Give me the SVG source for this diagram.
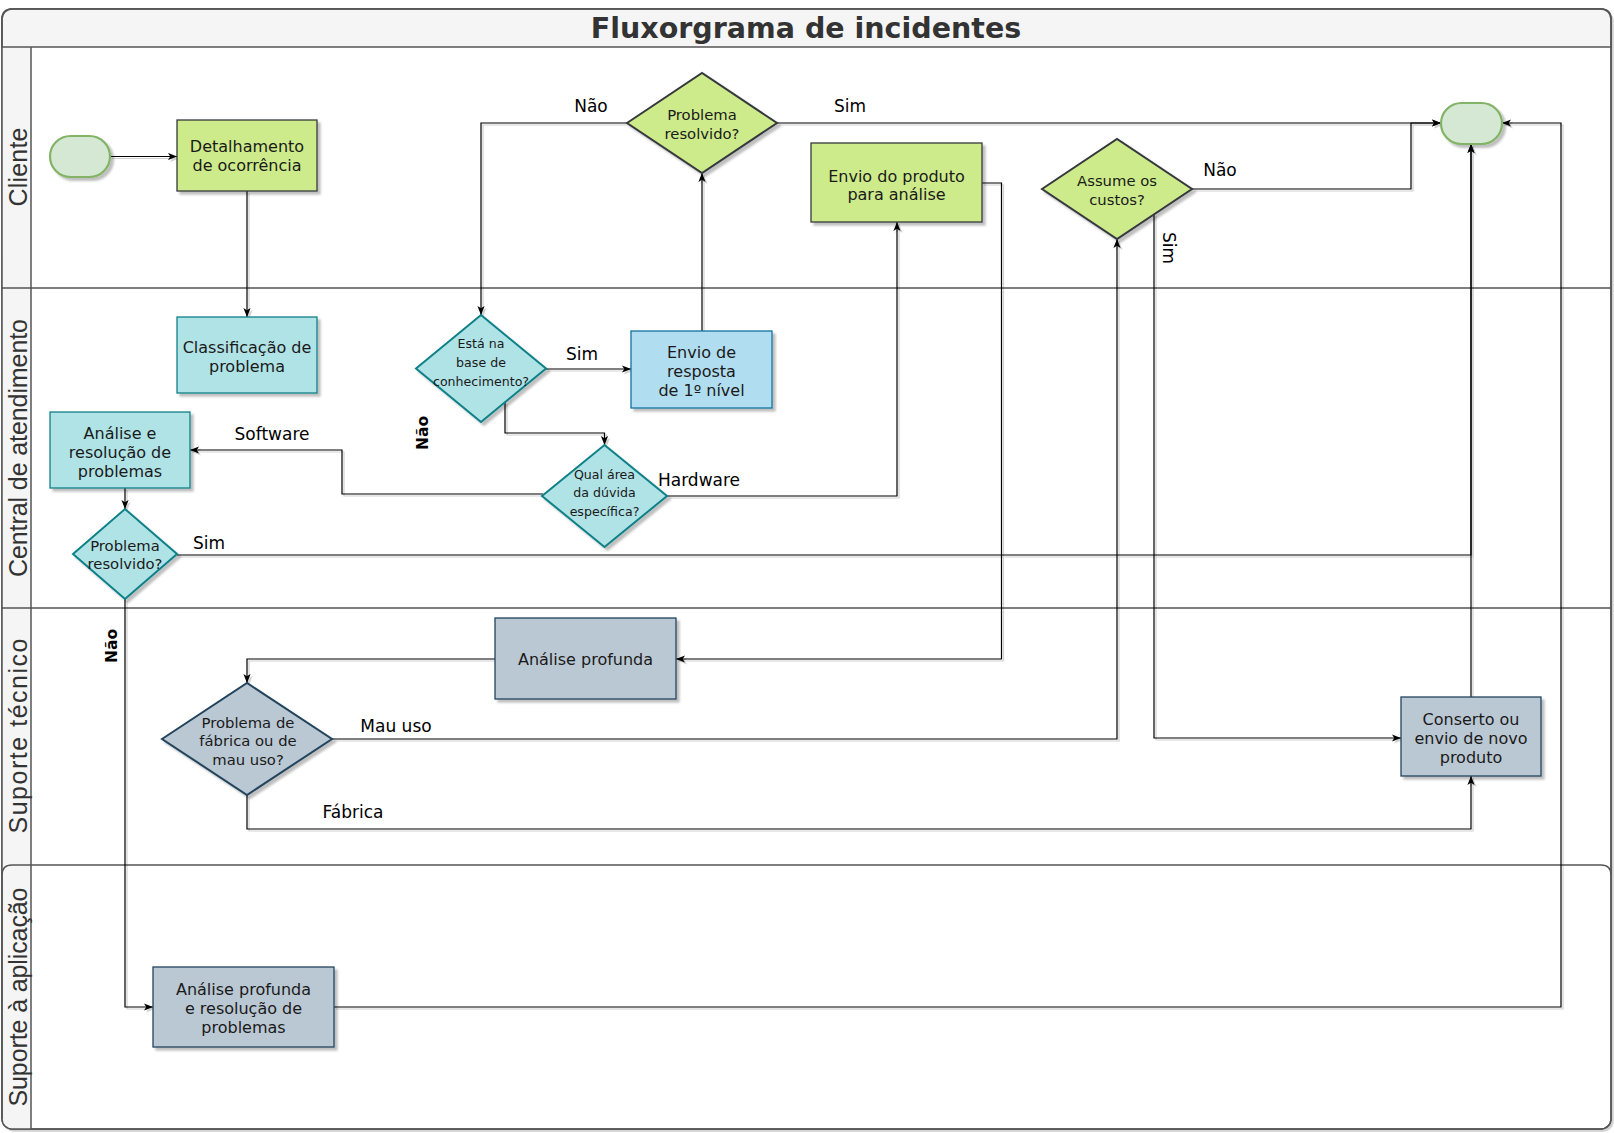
<svg xmlns="http://www.w3.org/2000/svg" width="1614" height="1133" viewBox="0 0 1614 1133">
<defs>
  <filter id="sh" x="-10%" y="-10%" width="130%" height="130%">
    <feDropShadow dx="3" dy="3" stdDeviation="0.8" flood-color="#000" flood-opacity="0.25"/>
  </filter>
  <filter id="lsh" x="-5%" y="-5%" width="110%" height="110%">
    <feDropShadow dx="2" dy="2" stdDeviation="0.6" flood-color="#000" flood-opacity="0.18"/>
  </filter>
  <marker id="arr" viewBox="0 0 10 8" refX="10" refY="4" markerWidth="9" markerHeight="7.5" markerUnits="userSpaceOnUse" orient="auto">
    <path d="M0,0 L10,4 L0,8 L2.5,4 z" fill="#000"/>
  </marker>
  <style>
    .lane { fill: none; stroke: #555; stroke-width: 1.5; }
    .lanetxt { font-family: "Liberation Sans", Arial, sans-serif; font-size: 25px; fill: #333; text-anchor: middle; }
    .title { font-family: "DejaVu Sans", Verdana, sans-serif; font-weight: bold; font-size: 28.5px; fill: #333; text-anchor: middle; }
    .green { fill: #cdeb8b; stroke: #36393d; stroke-width: 1.3; filter: url(#sh); }
    .greend { fill: #cdeb8b; stroke: #36393d; stroke-width: 2; filter: url(#sh); }
    .cyan { fill: #b0e3e6; stroke: #0e8088; stroke-width: 1.3; filter: url(#sh); }
    .cyand { fill: #b0e3e6; stroke: #0e8088; stroke-width: 2; filter: url(#sh); }
    .blue { fill: #b1ddf0; stroke: #10739e; stroke-width: 1.3; filter: url(#sh); }
    .slate { fill: #bac8d3; stroke: #23445d; stroke-width: 1.3; filter: url(#sh); }
    .slated { fill: #bac8d3; stroke: #23445d; stroke-width: 2; filter: url(#sh); }
    .term { fill: #d5e8d4; stroke: #82b366; stroke-width: 2.2; filter: url(#sh); }
    .t { font-family: "DejaVu Sans", Verdana, sans-serif; font-size: 16px; fill: #1a1a1a; text-anchor: middle; }
    .td { font-family: "DejaVu Sans", Verdana, sans-serif; font-size: 14.8px; fill: #1a1a1a; text-anchor: middle; }
    .ts { font-family: "DejaVu Sans", Verdana, sans-serif; font-size: 12.6px; fill: #1a1a1a; text-anchor: middle; }
    .lbl { font-family: "DejaVu Sans", Verdana, sans-serif; font-size: 17px; fill: #000; text-anchor: middle; }
    .lblb { font-family: "DejaVu Sans", Verdana, sans-serif; font-size: 15.5px; font-weight: bold; fill: #000; text-anchor: middle; }
    .c { fill: none; stroke: #000; stroke-width: 1.2; marker-end: url(#arr); }
  </style>
</defs>

<g id="pool">
  <rect x="2" y="9" width="1609" height="1120" rx="10" fill="#fff" stroke="#555" stroke-width="1.5" filter="url(#lsh)"/>
  <path d="M31,47 H2 V1119 Q2,1129 12,1129 H31 Z" fill="#f5f5f5"/>
  <path d="M2,47 V19 Q2,9 12,9 H1601 Q1611,9 1611,19 V47 Z" fill="#f5f5f5" stroke="#555" stroke-width="1.5"/>
  <rect x="2" y="9" width="1609" height="1120" rx="10" fill="none" stroke="#555" stroke-width="1.5"/>
  <text class="title" x="806" y="38">Fluxorgrama de incidentes</text>
  <line class="lane" x1="2" y1="288" x2="1611" y2="288"/>
  <line class="lane" x1="2" y1="608" x2="1611" y2="608"/>
  <path class="lane" d="M2,1119 V875 Q2,865 12,865 H1601 Q1611,865 1611,875"/>
  <line class="lane" x1="31" y1="47" x2="31" y2="1129"/>
  <text class="lanetxt" transform="translate(27,167) rotate(-90)" textLength="79" lengthAdjust="spacing">Cliente</text>
  <text class="lanetxt" transform="translate(27,448) rotate(-90)" textLength="258" lengthAdjust="spacing">Central de atendimento</text>
  <text class="lanetxt" transform="translate(27,736) rotate(-90)" textLength="195" lengthAdjust="spacing">Suporte técnico</text>
  <text class="lanetxt" transform="translate(27,997) rotate(-90)" textLength="219" lengthAdjust="spacing">Suporte à aplicação</text>
</g>

<g id="connectors" filter="url(#lsh)">
  <path class="c" d="M110,156.5 H177"/>
  <path class="c" d="M247,191 V317"/>
  <path class="c" d="M627,123 H481 V315"/>
  <path class="c" d="M777,123 H1441"/>
  <path class="c" d="M702,331 V173"/>
  <path class="c" d="M546,369 H631"/>
  <path class="c" d="M505,402 V433 H604.5 V445"/>
  <path class="c" d="M543,494 H342 V450 H190"/>
  <path class="c" d="M667,496 H897 V222"/>
  <path class="c" d="M125,488 V509"/>
  <path class="c" d="M177,555 H1471 V144"/>
  <path class="c" d="M125,599 V1007 H153"/>
  <path class="c" d="M982,183 H1001.5 V659 H676"/>
  <path class="c" d="M495,659 H247 V683"/>
  <path class="c" d="M332,739 H1117 V239"/>
  <path class="c" d="M247,795 V829 H1471 V776"/>
  <path class="c" d="M1154,214 V738 H1401"/>
  <path class="c" d="M1192,189 H1411 V123 H1441"/>
  <path class="c" d="M1471,697 V144"/>
  <path class="c" d="M334,1007 H1561 V123 H1502"/>
</g>

<g id="labels">
  <text class="lbl" x="591" y="112">Não</text>
  <text class="lbl" x="850" y="112">Sim</text>
  <text class="lbl" x="582" y="360">Sim</text>
  <text class="lblb" transform="translate(428,433) rotate(-90)">Não</text>
  <text class="lbl" x="272" y="440">Software</text>
  <text class="lbl" x="699" y="486">Hardware</text>
  <text class="lbl" x="209" y="549">Sim</text>
  <text class="lblb" transform="translate(117,646) rotate(-90)">Não</text>
  <text class="lbl" x="396" y="732">Mau uso</text>
  <text class="lbl" x="353" y="818">Fábrica</text>
  <text class="lbl" transform="translate(1163,248) rotate(90)">Sim</text>
  <text class="lbl" x="1220" y="176">Não</text>
</g>

<g id="start">
  <rect class="term" x="50" y="136" width="60" height="41" rx="20.5"/>
</g>
<g id="end">
  <rect class="term" x="1441" y="103" width="61" height="41" rx="20.5"/>
</g>

<g id="detalhamento">
  <rect class="green" x="177" y="120" width="140" height="71"/>
  <text class="t" x="247" y="152">Detalhamento</text>
  <text class="t" x="247" y="171">de ocorrência</text>
</g>

<g id="classificacao">
  <rect class="cyan" x="177" y="317" width="140" height="76"/>
  <text class="t" x="247" y="353">Classificação de</text>
  <text class="t" x="247" y="372">problema</text>
</g>

<g id="analise-resolucao">
  <rect class="cyan" x="50" y="412" width="140" height="76"/>
  <text class="t" x="120" y="439">Análise e</text>
  <text class="t" x="120" y="458">resolução de</text>
  <text class="t" x="120" y="477">problemas</text>
</g>

<g id="problema-resolvido-central">
  <polygon class="cyand" points="73,554 125,509 177,554 125,599"/>
  <text class="td" x="125" y="551">Problema</text>
  <text class="td" x="125" y="569">resolvido?</text>
</g>

<g id="base-conhecimento">
  <polygon class="cyand" points="416,368.5 481,315 546,368.5 481,422"/>
  <text class="ts" x="481" y="348">Está na</text>
  <text class="ts" x="481" y="367">base de</text>
  <text class="ts" x="481" y="386">conhecimento?</text>
</g>

<g id="envio-resposta">
  <rect class="blue" x="631" y="331" width="141" height="77"/>
  <text class="t" x="701.5" y="358">Envio de</text>
  <text class="t" x="701.5" y="377">resposta</text>
  <text class="t" x="701.5" y="396">de 1º nível</text>
</g>

<g id="qual-area">
  <polygon class="cyand" points="542,496 604.5,445 667,496 604.5,547"/>
  <text class="ts" x="604.5" y="479">Qual área</text>
  <text class="ts" x="604.5" y="497">da dúvida</text>
  <text class="ts" x="604.5" y="515.5">específica?</text>
</g>

<g id="problema-resolvido-cliente">
  <polygon class="greend" points="627,123 702,73 777,123 702,173"/>
  <text class="td" x="702" y="120">Problema</text>
  <text class="td" x="702" y="138.5">resolvido?</text>
</g>

<g id="envio-produto">
  <rect class="green" x="811" y="143" width="171" height="79"/>
  <text class="t" x="896.5" y="181.5">Envio do produto</text>
  <text class="t" x="896.5" y="200">para análise</text>
</g>

<g id="assume-custos">
  <polygon class="greend" points="1042,189 1117,139 1192,189 1117,239"/>
  <text class="td" x="1117" y="186">Assume os</text>
  <text class="td" x="1117" y="204.5">custos?</text>
</g>

<g id="analise-profunda">
  <rect class="slate" x="495" y="618" width="181" height="81"/>
  <text class="t" x="585.5" y="664.5">Análise profunda</text>
</g>

<g id="problema-fabrica">
  <polygon class="slated" points="162,739 247,683 332,739 247,795"/>
  <text class="td" x="248" y="727.5">Problema de</text>
  <text class="td" x="248" y="746">fábrica ou de</text>
  <text class="td" x="248" y="764.5">mau uso?</text>
</g>

<g id="conserto">
  <rect class="slate" x="1401" y="697" width="140" height="79"/>
  <text class="t" x="1471" y="725">Conserto ou</text>
  <text class="t" x="1471" y="744">envio de novo</text>
  <text class="t" x="1471" y="763">produto</text>
</g>

<g id="analise-profunda-resolucao">
  <rect class="slate" x="153" y="967" width="181" height="80"/>
  <text class="t" x="243.5" y="995">Análise profunda</text>
  <text class="t" x="243.5" y="1014">e resolução de</text>
  <text class="t" x="243.5" y="1033">problemas</text>
</g>
</svg>
